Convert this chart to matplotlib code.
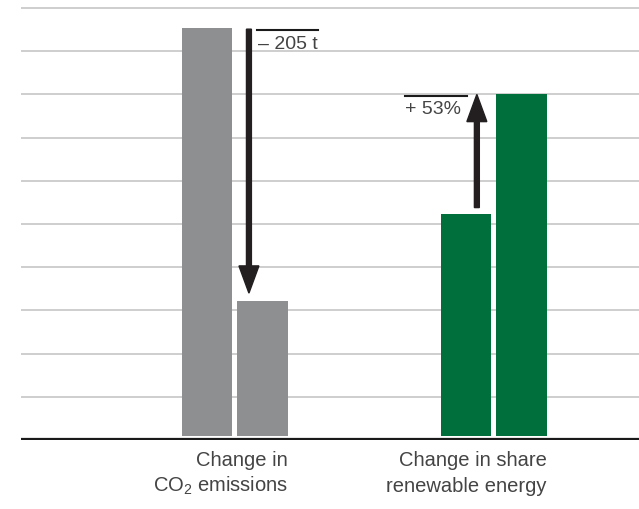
import matplotlib
matplotlib.use("Agg")
import matplotlib.pyplot as plt
import numpy as np

# ------------------------------------------------------------------
# Data (in grid units)
# ------------------------------------------------------------------
groups = ["co2", "renewables"]
before = [9.54, 5.23]
after = [3.22, 8.00]
change_labels = ["\u2013 205 t", "+ 53%"]
bar_colors = ["#8e8f91", "#006f3b"]
label_lines = [["Change in", r"CO$_2$ emissions"],
               ["Change in share", "renewable energy"]]

plt.rcParams["font.family"] = ["Liberation Sans", "DejaVu Sans"]
plt.rcParams["mathtext.fontset"] = "custom"
plt.rcParams["mathtext.rm"] = "Liberation Sans"
plt.rcParams["mathtext.it"] = "Liberation Sans"

# ------------------------------------------------------------------
# Figure / axes
# ------------------------------------------------------------------
fig = plt.figure(figsize=(6.39, 5.09), dpi=100)
ax = fig.add_axes([21 / 639, 69 / 509, 618 / 639, 440 / 509])

x = np.arange(len(groups))
width = 0.195
offset = 0.107
base = 0.09

ax.bar(x - offset, np.array(before) - base, width, bottom=base,
       color=bar_colors, zorder=2)
ax.bar(x + offset, np.array(after) - base, width, bottom=base,
       color=bar_colors, zorder=2)

ax.set_xlim(-0.826, 1.560)
ax.set_ylim(0, 10.185)
ax.set_yticks(np.arange(1, 11))
ax.set_xticks([])
ax.tick_params(left=False, labelleft=False)
ax.grid(axis="y", color="#c6c6c6", lw=1.2, zorder=0)
for s in ax.spines.values():
    s.set_visible(False)
ax.axhline(0.02, color="#1a1a1a", lw=1.6, zorder=3)

# ------------------------------------------------------------------
# Arrows + change labels
# ------------------------------------------------------------------
arrow_kw = dict(width=0.019, head_width=0.077, head_length=0.63,
                length_includes_head=True, color="#231f20", zorder=4)
txt_color = "#444444"

# CO2: down arrow from top of first bar to just above second bar
ax.arrow(0.054, before[0] - 0.03, 0, (after[0] + 0.18) - (before[0] - 0.03),
         **arrow_kw)
ax.plot([0.085, 0.32], [before[0] - 0.05] * 2, color="#1a1a1a", lw=1.5,
        zorder=4)
ax.text(0.089, 9.05, change_labels[0], fontsize=14, color=txt_color,
        va="baseline", ha="left")

# Renewables: up arrow from just above first bar to top of second bar
ax.arrow(0.934, before[1] + 0.15, 0, after[1] - (before[1] + 0.15),
         **arrow_kw)
ax.plot([0.656, 0.896], [after[1] - 0.03] * 2, color="#1a1a1a", lw=1.5,
        zorder=4)
ax.text(0.656, 7.55, change_labels[1], fontsize=14, color=txt_color,
        va="baseline", ha="left")

# ------------------------------------------------------------------
# Category labels, right-aligned to the second bar of each group
# ------------------------------------------------------------------
trans = ax.get_xaxis_transform()
for i, lines in enumerate(label_lines):
    xr = x[i] + offset + width / 2
    ax.text(xr, -0.059, lines[0], transform=trans, ha="right",
            va="baseline", fontsize=14.5, color=txt_color)
    ax.text(xr, -0.118, lines[1], transform=trans, ha="right",
            va="baseline", fontsize=14.5, color=txt_color)

fig.savefig("out.png", dpi=100)
